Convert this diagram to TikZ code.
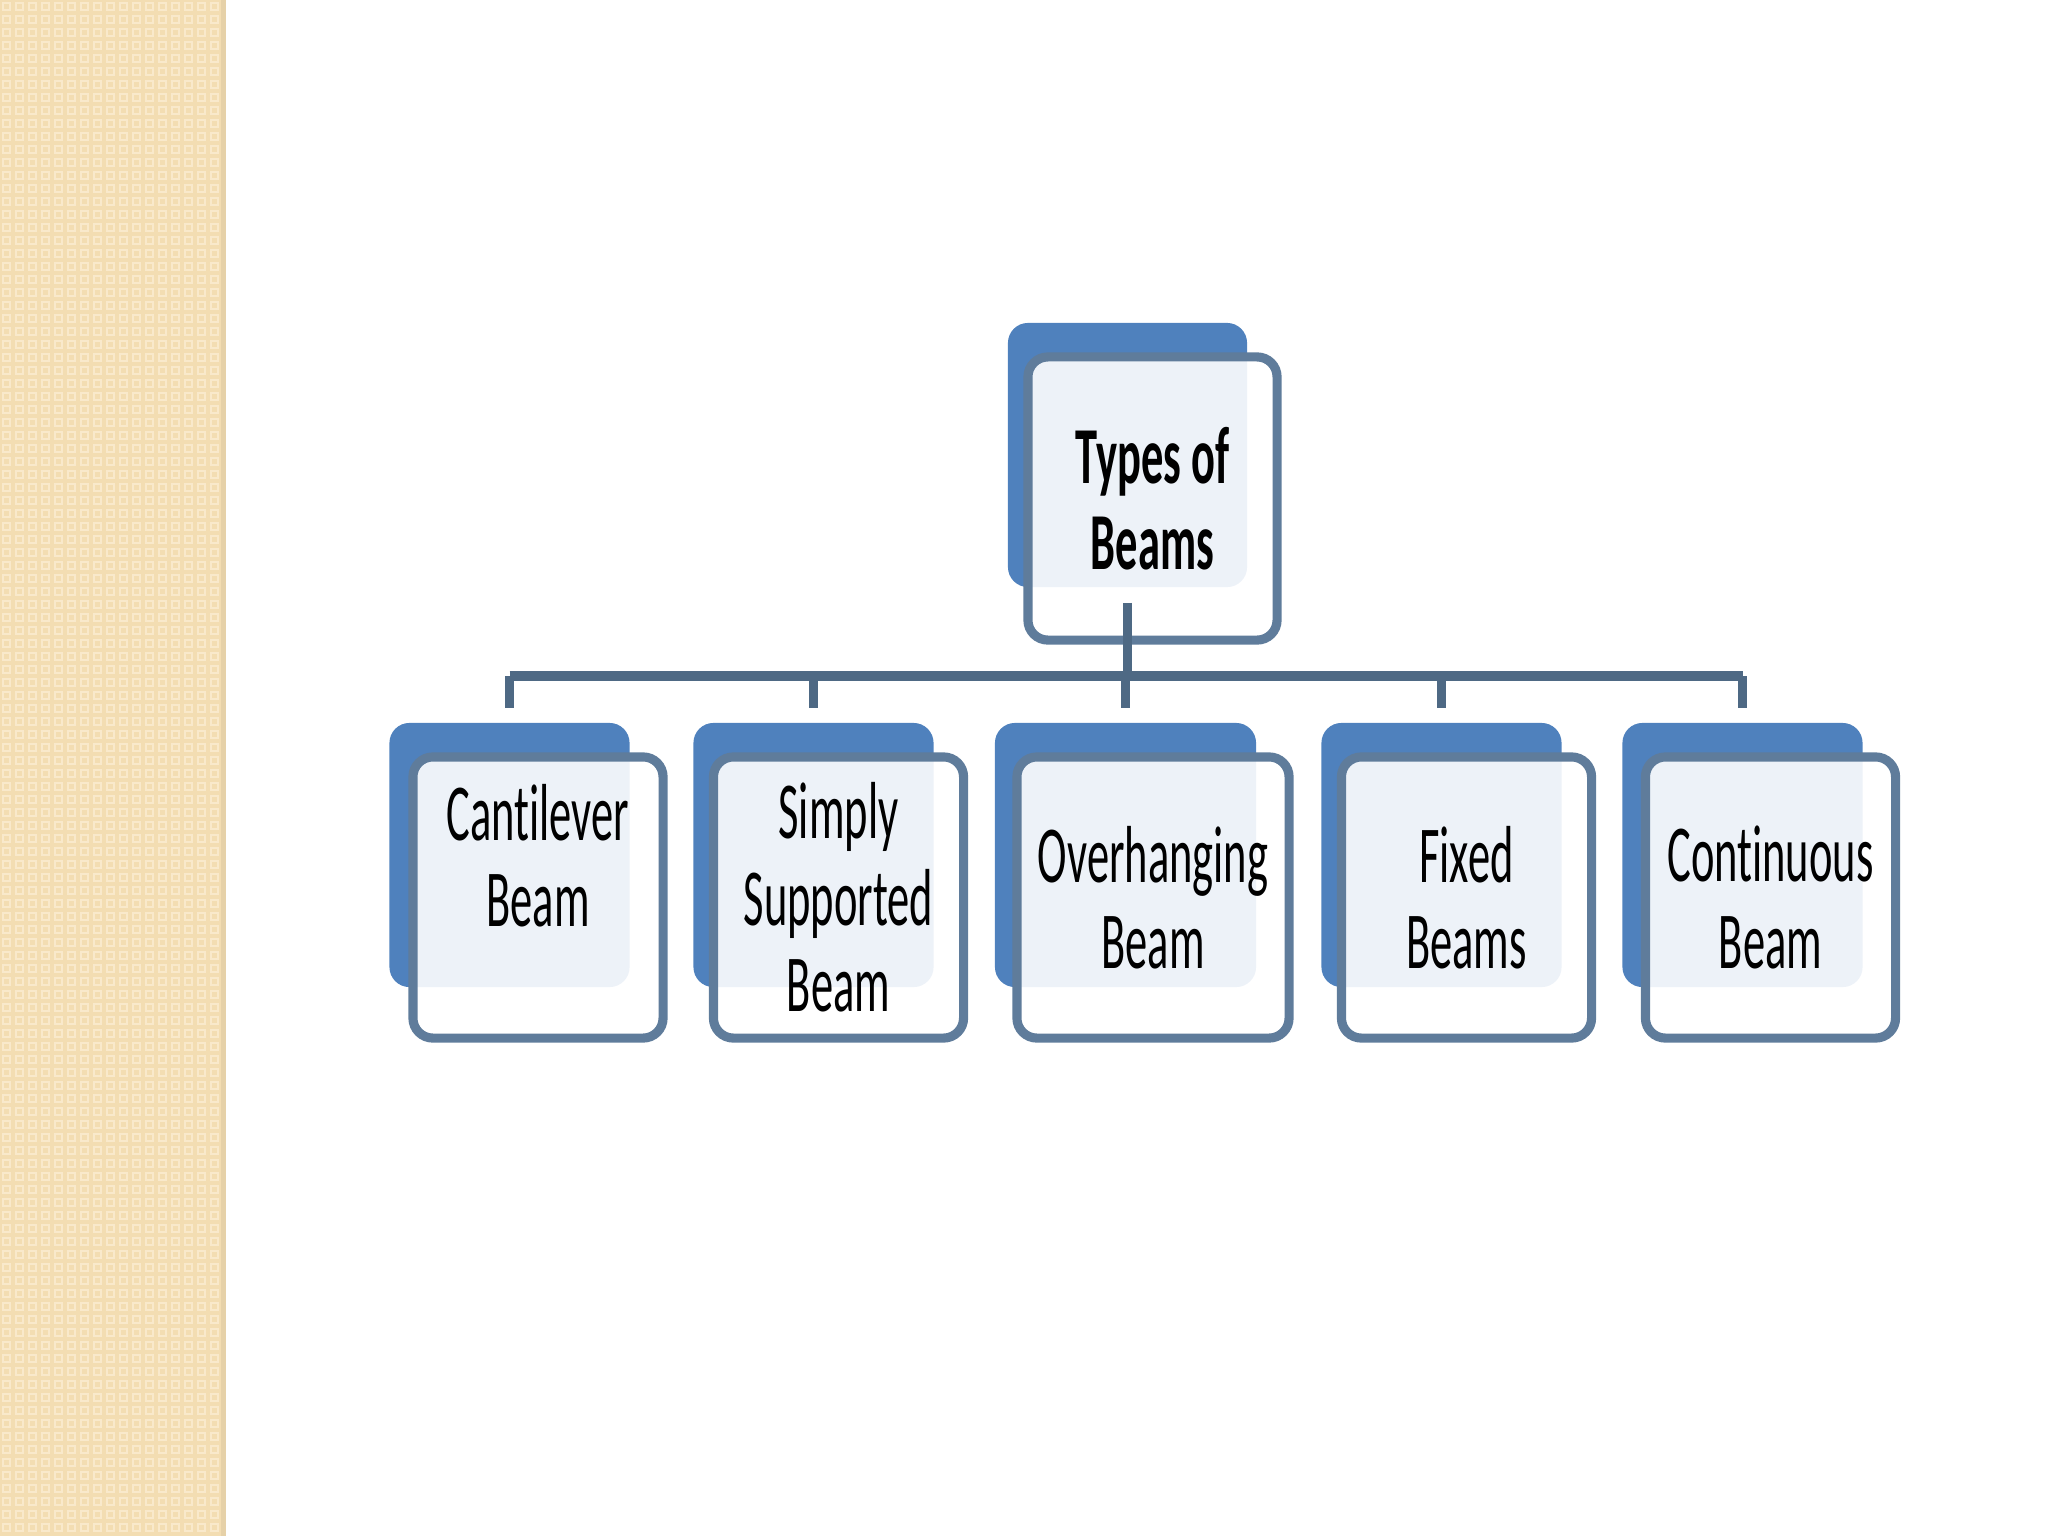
\documentclass[tikz,border=0pt]{standalone}
\usepackage{fontspec}
\setmainfont{Carlito}
\newfontfamily\narrowfont[FakeStretch=0.55, Ligatures=NoCommon]{Carlito}
\usetikzlibrary{positioning}
\definecolor{beamBlue}{HTML}{4F81BD}
\definecolor{beamEdge}{HTML}{5F7C9B}
\definecolor{beamLink}{HTML}{4E6984}
\definecolor{stripTan}{HTML}{F3DDB2}
\definecolor{stripDot}{HTML}{F9E9CB}
\definecolor{stripEdge}{HTML}{E6D1A8}

\begin{document}
\begin{tikzpicture}[x=0.01cm, y=-0.01cm,
  backbox/.style={rectangle, rounded corners=0.2cm, fill=beamBlue, inner sep=0pt,
    minimum width=2.4cm, minimum height=2.64cm},
  frontbox/.style={rectangle, rounded corners=0.2cm, draw=beamEdge, line width=2.6pt,
    fill=white, fill opacity=0.9, text opacity=1, inner sep=0pt, align=center,
    minimum width=2.5cm, minimum height=2.81cm,
    font=\narrowfont\fontsize{23}{24.6}\selectfont},
  link/.style={draw=beamLink, line width=2.6pt}
]
  \useasboundingbox (0,0) rectangle (2048,1536);

  % Side strip
  \fill[stripTan] (0,0) rectangle (225,1536);
  \foreach \i in {0,...,16}
    \foreach \j in {0,...,117}
      \draw[stripDot, line width=0.6pt] (\i*13+3,\j*13+3) rectangle ++(7,7);
  \fill[stripEdge] (221,0) rectangle (226,1536);

  % Top box
  \node[backbox, minimum width=2.39cm] (topb) at (1127.5,455) {};
  \node[frontbox, minimum width=2.49cm, minimum height=2.83cm, font=\narrowfont\bfseries\fontsize{23}{24.6}\selectfont]
    (top) at (1152.5,498.5) {Types of\\Beams};

  % Leaf boxes
  \node[backbox] (cb) at (509.5,855) {};
  \node[frontbox, text depth=0.84cm] (c) at (538,897.5) {Cantilever\\Beam};

  \node[backbox] (sb) at (813.5,855) {};
  \node[frontbox] (s) at (838.5,897.5) {Simply\\Supported\\Beam};

  \node[backbox, minimum width=2.61cm] (ob) at (1125.5,855) {};
  \node[frontbox, minimum width=2.72cm] (o) at (1153,897.5) {Overhanging\\Beam};

  \node[backbox] (fb) at (1441.5,855) {};
  \node[frontbox] (f) at (1466.5,897.5) {Fixed\\Beams};

  \node[backbox] (cnb) at (1742.5,855) {};
  \node[frontbox] (cn) at (1770.5,897.5) {Continuous\\Beam};

  % Connectors
  \coordinate (bar) at (1127,676);
  \draw[link, shorten <=0.15cm] (topb.south) -- (topb.south |- bar);
  \draw[link] (cb.north |- bar) -- (cnb.north |- bar);
  \foreach \b in {cb,sb,ob,fb,cnb}
    \draw[link, shorten >=0.14cm] (\b.north |- bar) -- (\b.north);
\end{tikzpicture}
\end{document}
